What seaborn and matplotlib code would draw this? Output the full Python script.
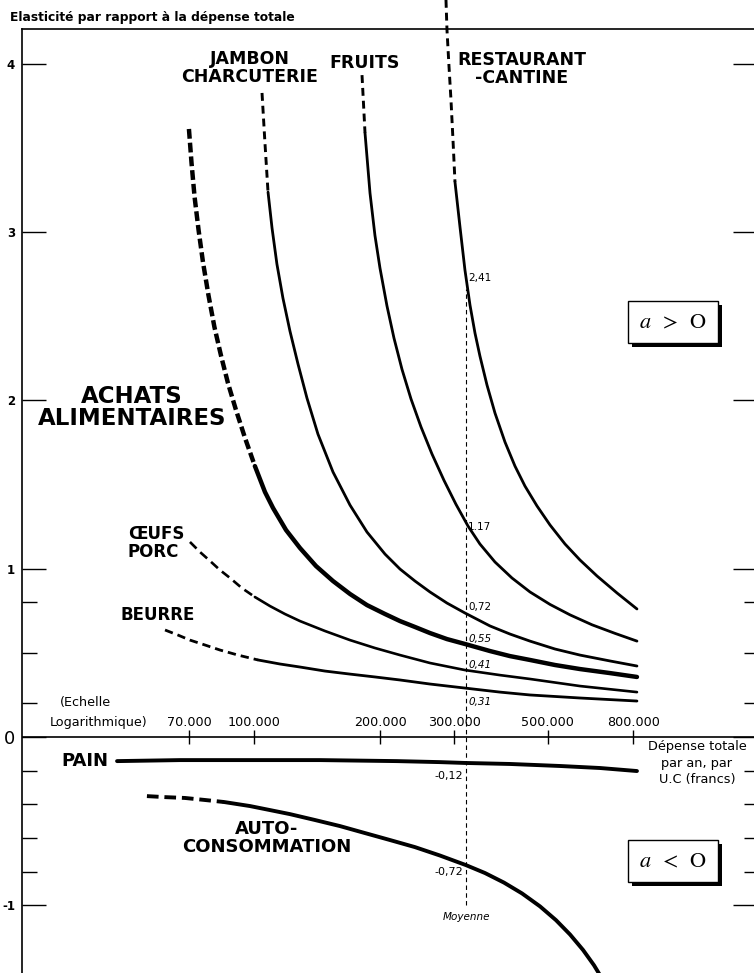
import matplotlib
matplotlib.use("Agg")
import matplotlib.pyplot as plt
import matplotlib.patheffects as pe
import seaborn as sns

# Valeurs : dépense totale (francs, échelle log) et élasticité
restaurant_dash_x = [286500, 288100, 291200, 294400, 297700, 301000]
restaurant_dash_y = [4.38, 4.20, 3.99, 3.79, 3.55, 3.298]
restaurant_x = [301000, 309400, 317900, 326800, 335900, 345100, 358700, 374800, 395900,
                418200, 441800, 471900, 506800, 550200, 597300, 655700, 731700, 816300]
restaurant_y = [3.298, 3.030, 2.775, 2.567, 2.400, 2.264, 2.092, 1.925, 1.753,
                1.610, 1.491, 1.373, 1.260, 1.147, 1.052, 0.957, 0.856, 0.761]

fruits_dash_x = [180800, 182300, 183800]
fruits_dash_y = [3.933, 3.761, 3.589]
fruits_x = [183800, 188900, 194100, 199500, 207300, 215400, 225100, 236500, 249800, 265300,
            283400, 302600, 323200, 345100, 374800, 411400, 454100, 506800, 565500, 638000,
            723700, 816300]
fruits_y = [3.589, 3.232, 2.980, 2.787, 2.562, 2.371, 2.185, 2.009, 1.843, 1.682,
            1.525, 1.383, 1.254, 1.147, 1.040, 0.945, 0.862, 0.788, 0.726, 0.667,
            0.616, 0.570]

jambon_dash_x = [104500, 106200, 108000]
jambon_dash_y = [3.827, 3.529, 3.238]
jambon_x = [108000, 110400, 113400, 117200, 121800, 127300, 133700, 142000, 154200, 169300,
            185800, 205100, 222700, 241700, 262400, 288100, 317900, 364700, 406900, 454100,
            520900, 597300, 704200, 816300]
jambon_y = [3.238, 3.024, 2.810, 2.608, 2.412, 2.216, 2.014, 1.800, 1.575, 1.378,
            1.218, 1.087, 0.998, 0.927, 0.862, 0.796, 0.737, 0.660, 0.612, 0.570,
            0.523, 0.487, 0.452, 0.422]

achats_dash_x = [70000, 71000, 72200, 73800, 75600, 77900, 80500, 83500, 86700, 90600,
                 95200, 100500]
achats_dash_y = [3.613, 3.411, 3.209, 3.012, 2.822, 2.626, 2.436, 2.264, 2.103, 1.943,
                 1.777, 1.610]
achats_x = [100500, 106200, 111000, 119200, 128700, 140500, 154200, 169300, 185800, 205100,
            222700, 241700, 262400, 288100, 317900, 364700, 406900, 454100, 520900, 597300,
            704200, 816300]
achats_y = [1.610, 1.456, 1.361, 1.230, 1.123, 1.016, 0.927, 0.850, 0.784, 0.731,
            0.689, 0.654, 0.618, 0.582, 0.553, 0.511, 0.481, 0.458, 0.428, 0.404,
            0.380, 0.357]

oeufs_dash_x = [70400, 74400, 78600, 83000, 87700, 93600, 100500]
oeufs_dash_y = [1.159, 1.099, 1.046, 0.992, 0.945, 0.885, 0.832]
oeufs_x = [100500, 109200, 118500, 128700, 147600, 169300, 194100, 222700, 262400, 317900,
           385200, 454100, 597300, 816300]
oeufs_y = [0.832, 0.778, 0.731, 0.689, 0.630, 0.576, 0.529, 0.487, 0.440, 0.398,
           0.368, 0.345, 0.303, 0.267]

beurre_dash_x = [61400, 65900, 70400, 76400, 83000, 91600, 102200]
beurre_dash_y = [0.636, 0.606, 0.576, 0.547, 0.517, 0.487, 0.458]
beurre_x = [102200, 115300, 128700, 147600, 169300, 194100, 222700, 262400, 317900, 385200,
            454100, 597300, 816300]
beurre_y = [0.458, 0.434, 0.416, 0.392, 0.374, 0.357, 0.339, 0.315, 0.291, 0.267,
            0.250, 0.232, 0.214]

pain_x = [47200, 66700, 100000, 143600, 219000, 277200, 317900, 406900, 535300, 666600, 816300]
pain_y = [-0.143, -0.137, -0.137, -0.137, -0.143, -0.149, -0.154, -0.160, -0.172, -0.184, -0.202]

auto_dash_x = [55600, 61400, 68500, 76400, 84800]
auto_dash_y = [-0.351, -0.357, -0.362, -0.374, -0.386]
auto_x = [84800, 97800, 109200, 121800, 139700, 160200, 179800, 210800, 241700, 277200,
          319700, 354800, 393800, 434600, 479700, 523700, 565500, 607300, 645000, 688900]
auto_y = [-0.386, -0.410, -0.434, -0.458, -0.493, -0.529, -0.564, -0.612, -0.654, -0.704,
          -0.761, -0.808, -0.865, -0.929, -1.006, -1.088, -1.173, -1.265, -1.356, -1.474]

moyenne = 319700
moyenne_labels = ["2,41", "1.17", "0,72", "0,55", "0,41", "0,31"]
moyenne_label_y = [2.73, 1.25, 0.77, 0.58, 0.43, 0.21]
neg_labels = ["-0,12", "-0,72"]
neg_label_y = [-0.23, -0.80]

x_ticks = [70000, 100000, 200000, 300000, 500000, 800000]
x_ticklabels = ["70.000", "100.000", "200.000", "300.000", "500.000", "800.000"]
y_ticks = [4, 3, 2, 1, 0, -1]
y_ticklabels = ["4", "3", "2", "1", "0", "-1"]
y_minor = [0.8, 0.5, 0.2, -0.2, -0.4, -0.6, -0.8]

sns.set_style("white")
plt.rcParams["font.family"] = ["DejaVu Sans"]
plt.rcParams["mathtext.fontset"] = "stix"
plt.rcParams["text.color"] = "black"
plt.rcParams["axes.edgecolor"] = "black"
plt.rcParams["ytick.color"] = "black"

fig = plt.figure(figsize=(7.54, 9.73), dpi=100)
ax = fig.add_axes([22 / 754, 0, 732 / 754, 944 / 973])
ax.set_xscale("log")
ax.set_xlim(28030, 1550700)
ax.set_ylim(-1.402, 4.207)

thin_dash = (0, (2.7, 1.7))
curves = [
    (restaurant_dash_x, restaurant_dash_y, 2.1, thin_dash),
    (restaurant_x, restaurant_y, 2.0, "-"),
    (fruits_dash_x, fruits_dash_y, 2.1, thin_dash),
    (fruits_x, fruits_y, 2.0, "-"),
    (jambon_dash_x, jambon_dash_y, 2.1, thin_dash),
    (jambon_x, jambon_y, 2.0, "-"),
    (achats_dash_x, achats_dash_y, 3.2, (0, (2.2, 0.9))),
    (achats_x, achats_y, 3.2, "-"),
    (oeufs_dash_x, oeufs_dash_y, 1.9, (0, (3.5, 2.0))),
    (oeufs_x, oeufs_y, 1.9, "-"),
    (beurre_dash_x, beurre_dash_y, 2.0, (0, (3.0, 1.8))),
    (beurre_x, beurre_y, 2.0, "-"),
    (pain_x, pain_y, 2.8, "-"),
    (auto_dash_x, auto_dash_y, 2.8, (0, (3.0, 1.5))),
    (auto_x, auto_y, 2.8, "-"),
]
for xs, ys, lw, ls in curves:
    sns.lineplot(x=xs, y=ys, ax=ax, color="black", lw=lw, linestyle=ls,
                 sort=False, estimator=None, clip_on=False)

# axe des abscisses porté par la ligne zéro
ax.axhline(0, color="black", lw=1.2)
ax.plot(x_ticks, [0] * len(x_ticks), ls="none", marker="|", ms=10, mew=1.0, color="black")
for xt, lab in zip(x_ticks, x_ticklabels):
    ax.text(xt, 0.089, lab, ha="center", va="center", fontsize=9.2)
ax.text(34500, 0.208, "(Echelle", ha="left", va="center", fontsize=9.2)
ax.text(32700, 0.089, "Logarithmique)", ha="left", va="center", fontsize=9.2)

# ligne de la moyenne et valeurs
ax.vlines(moyenne, -1.0, 2.66, color="black", lw=0.8, linestyles=(0, (4, 3)))
ax.text(moyenne, -1.07, "Moyenne", ha="center", va="center", fontsize=7.5, style="italic")
for lab, yv in zip(moyenne_labels, moyenne_label_y):
    ax.text(moyenne * 1.012, yv, lab, ha="left", va="center", fontsize=7.5,
            style="italic" if yv < 0.7 else "normal")
for lab, yv in zip(neg_labels, neg_label_y):
    ax.text(moyenne * 0.985, yv, lab, ha="right", va="center", fontsize=8)

# noms des courbes
bold = dict(fontweight="bold", ha="center", va="center", linespacing=0.95)
ax.text(97800, 3.975, "JAMBON\nCHARCUTERIE", fontsize=12.5, **bold)
ax.text(183800, 4.005, "FRUITS", fontsize=12.5, **bold)
ax.text(434500, 3.97, "RESTAURANT\n-CANTINE", fontsize=12.5, **bold)
ax.text(51230, 1.96, "ACHATS\nALIMENTAIRES", fontsize=16.5, **bold)
ax.text(50100, 1.153, "ŒUFS\nPORC", fontsize=12, fontweight="bold", ha="left",
        va="center", linespacing=1.0)
ax.text(59060, 0.725, "BEURRE", fontsize=12, **bold)
ax.text(39600, -0.143, "PAIN", fontsize=13, **bold)
ax.text(107400, -0.60, "AUTO-\nCONSOMMATION", fontsize=13, **bold)

ax.text(1134000, -0.155, "Dépense totale\npar an, par\nU.C (francs)", ha="center",
        va="center", fontsize=9.3, multialignment="center", linespacing=1.35)

# encadrés a > O et a < O avec ombre portée
for yv, sign in [(2.466, ">"), (-0.737, "<")]:
    box = ax.text(994500, yv, r"$a\;\;" + sign + r"\;\;\mathrm{O}$", ha="center",
                  va="center", fontsize=16,
                  bbox=dict(boxstyle="square,pad=0.5", fc="white", ec="black", lw=1))
    box.get_bbox_patch().set_path_effects(
        [pe.SimplePatchShadow(offset=(2.8, -2.8), shadow_rgbFace="black", alpha=1.0),
         pe.Normal()])

# cadre et graduations
for side in ["right", "bottom"]:
    ax.spines[side].set_visible(False)
for side in ["left", "top"]:
    ax.spines[side].set_visible(True)
    ax.spines[side].set_linewidth(1.2)
ax.tick_params(axis="x", which="both", bottom=False, top=False, labelbottom=False)
ax.set_yticks(y_ticks, labels=y_ticklabels)
ax.set_yticks(y_minor, minor=True)
ax.tick_params(axis="y", which="major", direction="in", left=True, right=False,
               length=17, width=1.0, pad=5, labelsize=8.5)
ax.tick_params(axis="y", which="minor", direction="in", left=True, right=False,
               length=11, width=1.0)
for t in ax.get_yticklabels():
    t.set_fontweight("bold")
    if t.get_text() == "0":
        t.set_fontsize(13)
        t.set_fontweight("normal")

ax_r = ax.twinx()
ax_r.set_ylim(ax.get_ylim())
ax_r.set_yticks(y_ticks, labels=[""] * len(y_ticks))
ax_r.set_yticks(y_minor, minor=True)
ax_r.tick_params(axis="y", which="major", direction="in", right=True, length=15, width=1.0)
ax_r.tick_params(axis="y", which="minor", direction="in", right=True, length=7, width=1.0)
for side in ax_r.spines:
    ax_r.spines[side].set_visible(False)

fig.text(10 / 754, 1 - 18 / 973, "Elasticité par rapport à la dépense totale", fontsize=8.8,
         fontweight="bold", va="center", ha="left")

fig.savefig("out.png", dpi=100, facecolor="white")
